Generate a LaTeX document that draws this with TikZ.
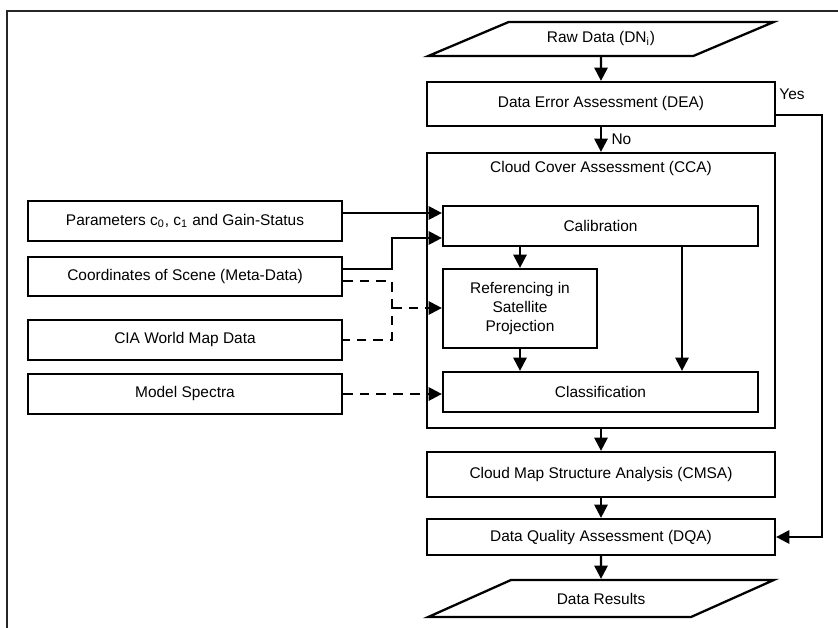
\documentclass[tikz,border=0pt]{standalone}
\usepackage{fontspec}
\setmainfont{Liberation Sans}
\usepackage{xcolor}
\usepackage{tikz}
\usetikzlibrary{arrows.meta}
\usetikzlibrary{shapes.geometric}
\tikzset{
    box/.style = {rectangle, draw=black, align=center, inner sep=2pt},
    iobox/.style = {trapezium, draw=black, align=center, trapezium left angle=26.6, trapezium right angle=153.4, trapezium stretches=true, minimum width=6.92cm},
}
\begin{document}
\begin{tikzpicture}[
	x=0.02cm, y=-0.02cm,
	line width=1.3pt,
	font=\fontsize{8.8}{10.8}\selectfont
]
\tikzset{
    edgen/.style = {-},
    edgea/.style = {-{Triangle[length=7.5pt,width=7.5pt]}},
    edged/.style = {dash pattern=on 5.5pt off 4pt},
    edgeda/.style = {edgea, edged},
    frame/.style = {line width=1.4pt, black!85}
}
\useasboundingbox (0,0) rectangle (838,628);
\draw[frame] (7,628) -- (7,11) -- (838,11);
%
\node[iobox, minimum height=0.68cm] at (601,39) (raw) {Raw Data (DN\textsubscript{i})};
\node[box, minimum width=6.96cm, minimum height=0.88cm] at (601,104) (dea) {Data Error Assessment (DEA)};
\node[box, minimum width=6.96cm, minimum height=5.5cm] at (601,290.5) (cca) {};
\node at (601,168) (ccat) {Cloud Cover Assessment (CCA)};
\node[box, minimum width=6.3cm, minimum height=0.8cm] at (600.5,226) (calib) {Calibration};
\node[box, minimum width=3.08cm, minimum height=1.58cm] at (520,308.5) (refer) {Referencing in\\Satellite\\Projection};
\node[box, minimum width=6.3cm, minimum height=0.8cm] at (600.5,392) (classif) {Classification};
\node[box, minimum width=6.96cm, minimum height=0.9cm] at (601,474.5) (cmsa) {Cloud Map Structure Analysis (CMSA)};
\node[box, minimum width=6.96cm, minimum height=0.72cm] at (601,537) (dqa) {Data Quality Assessment (DQA)};
\node[iobox, minimum height=0.74cm] at (601,598.5) (res) {Data Results};
%
\node[box, minimum width=6.28cm, minimum height=0.8cm] at (185,221) (param) {Parameters c\textsubscript{0}, c\textsubscript{1} and Gain-Status};
\node[box, minimum width=6.28cm, minimum height=0.78cm] at (185,276.5) (coord) {Coordinates of Scene (Meta-Data)};
\node[box, minimum width=6.28cm, minimum height=0.8cm] at (185,340) (cia) {CIA World Map Data};
\node[box, minimum width=6.28cm, minimum height=0.8cm] at (185,394) (spectra) {Model Spectra};
%
\coordinate (yes) at (822,115);
\coordinate (jsol) at (392,238);
\coordinate (jdash) at (392,308);
\node at (792,94) (yestxt) {Yes};
%
\draw[edgea] (raw) -- (dea);
\draw[edgea] (dea) -- node[right=2pt] {No} (cca);
\draw[edgea] (dea.east |- yes) -- (yes) |- (dqa.east);
\draw[edgea] (cca) -- (cmsa);
\draw[edgea] (cmsa) -- (dqa);
\draw[edgea] (dqa) -- (res);
%
\draw[edgea] (calib.south -| refer.north) -- (refer.north);
\draw[edgea] (refer.south) -- (classif.north -| refer.south);
\draw[edgea] (calib.south -| 682,0) -- (classif.north -| 682,0);
%
\draw[edgea] (param.east |- 0,213) -- (calib.west |- 0,213);
\draw[edgea] (coord.east |- 0,269) -| (jsol) -- (calib.west |- jsol);
\draw[edged] (coord.east |- 0,281) -| (jdash) |- (cia.east);
\draw[edgeda] (jdash) -- (refer.west |- jdash);
\draw[edgeda] (spectra.east) -- (classif.west |- spectra.east);
\end{tikzpicture}
\end{document}
